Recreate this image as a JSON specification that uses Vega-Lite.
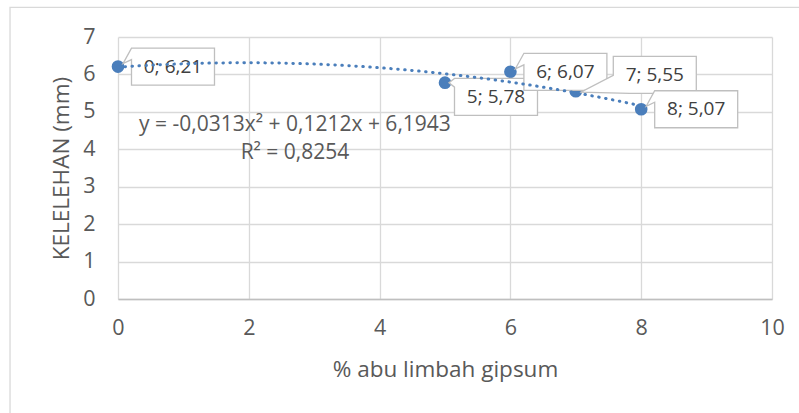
{
  "$schema": "https://vega.github.io/schema/vega-lite/v6.json",
  "width": 654,
  "height": 262,
  "autosize": {"type": "none"},
  "padding": {"left": 118, "top": 37, "right": 27, "bottom": 114},
  "background": "white",
  "config": {
    "view": {"stroke": null},
    "font": "Open Sans",
    "axis": {
      "gridColor": "#d9d9d9",
      "gridWidth": 1.3,
      "ticks": false,
      "labelFlush": false,
      "labelOverlap": false,
      "labelColor": "#595959",
      "titleColor": "#595959",
      "labelFont": "Open Sans",
      "titleFont": "Open Sans",
      "labelFontSize": 21.5,
      "titleFontSize": 22.5,
      "titleFontWeight": "normal"
    },
    "axisX": {"tickCount": 5, "format": "d", "domainColor": "#bfbfbf", "domainWidth": 1.3, "labelPadding": 18, "titleBaseline": "middle", "titleY": 70},
    "axisY": {"tickCount": 7, "format": "d", "domain": false, "labelPadding": 23, "titleBaseline": "middle", "titleX": -57, "titleY": 131}
  },
  "datasets": {
    "pts": [
      {"x": 0, "y": 6.21, "label": "0; 6,21"},
      {"x": 5, "y": 5.78, "label": "5; 5,78"},
      {"x": 6, "y": 6.07, "label": "6; 6,07"},
      {"x": 7, "y": 5.55, "label": "7; 5,55"},
      {"x": 8, "y": 5.07, "label": "8; 5,07"}
    ]
  },
  "data": {"name": "pts"},
  "layer": [
    {
      "data": {"values": [{}]},
      "mark": {"type": "rect", "filled": false, "stroke": "#d9d9d9", "strokeWidth": 1.3},
      "encoding": {
        "x": {"datum": -1.651, "type": "quantitative", "scale": {"domain": [0, 10]},
          "axis": {"title": "% abu limbah gipsum", "grid": true}},
        "x2": {"datum": 10.6},
        "y": {"datum": 7.793, "type": "quantitative", "scale": {"domain": [0, 7]},
          "axis": {"title": "KELELEHAN (mm)", "grid": true}},
        "y2": {"datum": -4}
      }
    },
    {
      "mark": {"type": "circle", "size": 160, "color": "#4a7ebb", "opacity": 1},
      "encoding": {
        "x": {"field": "x", "type": "quantitative", "scale": {"domain": [0, 10]},
          "axis": {"title": "% abu limbah gipsum", "grid": true}},
        "y": {"field": "y", "type": "quantitative", "scale": {"domain": [0, 7]},
          "axis": {"title": "KELELEHAN (mm)", "grid": true}}
      }
    },
    {
      "mark": {"type": "point", "filled": true, "fill": "white", "stroke": "#bfbfbf", "strokeWidth": 1.3, "size": 4, "opacity": 1},
      "encoding": {
        "x": {"field": "x", "type": "quantitative"},
        "y": {"field": "y", "type": "quantitative"},
        "shape": {
          "field": "label", "type": "nominal", "legend": null,
          "scale": {
            "domain": ["0; 6,21", "5; 5,78", "6; 6,07", "7; 5,55", "8; 5,07"],
            "range": [
              "M13.5,-18.5L96.5,-18.5L96.5,18.5L13.5,18.5L13.5,-7L5,-3Z",
              "M9.5,-4.2L92.5,-4.2L92.5,32.8L9.5,32.8L9.5,4.5L4,0Z",
              "M13.5,-18.5L96.5,-18.5L96.5,18.5L13.5,18.5L13.5,-7L5,-3Z",
              "M37.5,-34.8L120.5,-34.8L120.5,2.2L54,2.2L5,1L37.5,-16Z",
              "M13.5,-18.5L96.5,-18.5L96.5,18.5L13.5,18.5L13.5,-7L5,-3Z"
            ]
          }
        }
      }
    },
    {
      "transform": [{"filter": "datum.x == 0 || datum.x == 6 || datum.x == 8"}],
      "mark": {"type": "text", "font": "Open Sans", "fontSize": 19, "color": "#404040", "align": "center", "baseline": "middle", "dx": 55, "dy": 0},
      "encoding": {
        "x": {"field": "x", "type": "quantitative"},
        "y": {"field": "y", "type": "quantitative"},
        "text": {"field": "label"}
      }
    },
    {
      "transform": [{"filter": "datum.x == 5"}],
      "mark": {"type": "text", "font": "Open Sans", "fontSize": 19, "color": "#404040", "align": "center", "baseline": "middle", "dx": 51, "dy": 14.3},
      "encoding": {
        "x": {"field": "x", "type": "quantitative"},
        "y": {"field": "y", "type": "quantitative"},
        "text": {"field": "label"}
      }
    },
    {
      "transform": [{"filter": "datum.x == 7"}],
      "mark": {"type": "text", "font": "Open Sans", "fontSize": 19, "color": "#404040", "align": "center", "baseline": "middle", "dx": 79, "dy": -16.3},
      "encoding": {
        "x": {"field": "x", "type": "quantitative"},
        "y": {"field": "y", "type": "quantitative"},
        "text": {"field": "label"}
      }
    },
    {
      "transform": [{"regression": "y", "on": "x", "method": "poly", "order": 2}],
      "mark": {"type": "line", "color": "#4a7ebb", "strokeWidth": 3, "strokeCap": "round", "strokeDash": [0.5, 6.5]},
      "encoding": {
        "x": {"field": "x", "type": "quantitative"},
        "y": {"field": "y", "type": "quantitative"}
      }
    },
    {
      "data": {"values": [{"t": "y = -0,0313x² + 0,1212x + 6,1943"}]},
      "mark": {"type": "text", "font": "Open Sans", "fontSize": 21, "color": "#595959", "align": "center", "baseline": "middle"},
      "encoding": {
        "x": {"datum": 2.706, "type": "quantitative",
          "axis": {"title": "% abu limbah gipsum", "grid": true}},
        "y": {"datum": 4.64, "type": "quantitative",
          "axis": {"title": "KELELEHAN (mm)", "grid": true}},
        "text": {"field": "t"}
      }
    },
    {
      "data": {"values": [{"t": "R² = 0,8254"}]},
      "mark": {"type": "text", "font": "Open Sans", "fontSize": 21, "color": "#595959", "align": "center", "baseline": "middle"},
      "encoding": {
        "x": {"datum": 2.706, "type": "quantitative",
          "axis": {"title": "% abu limbah gipsum", "grid": true}},
        "y": {"datum": 3.89, "type": "quantitative",
          "axis": {"title": "KELELEHAN (mm)", "grid": true}},
        "text": {"field": "t"}
      }
    }
  ]
}
